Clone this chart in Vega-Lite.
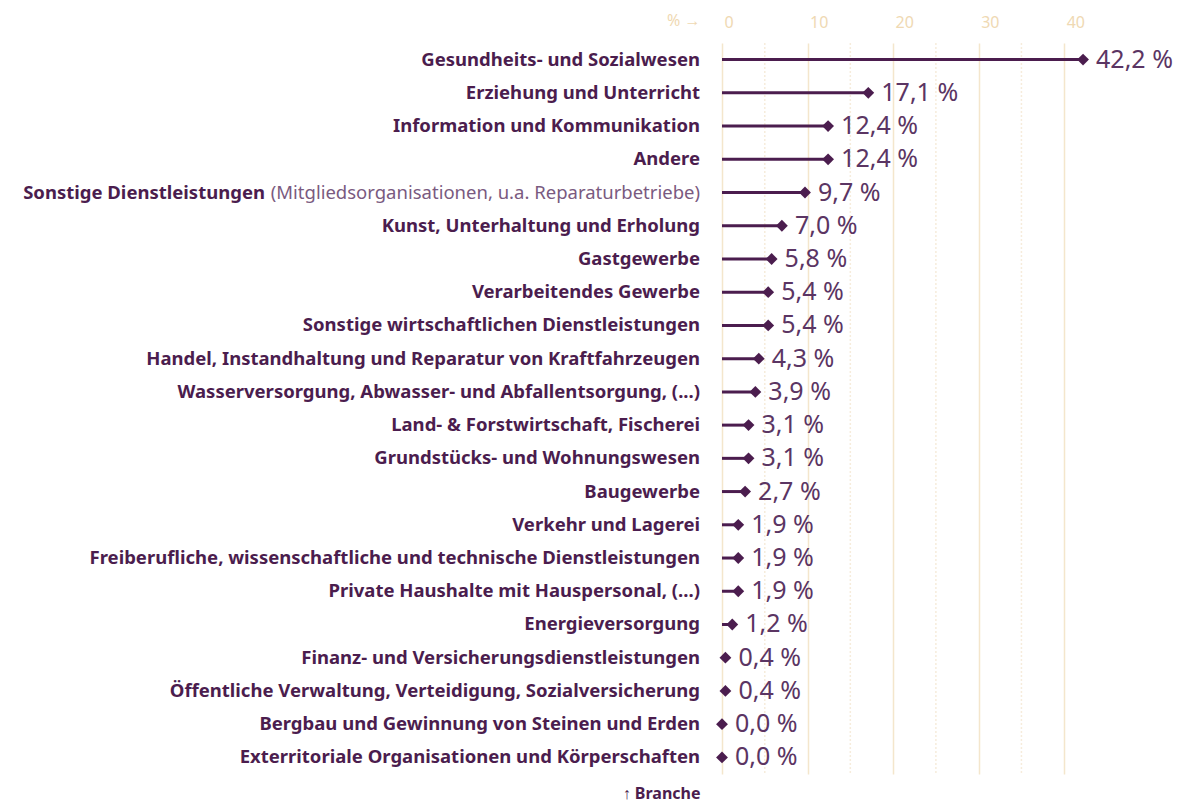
{
  "$schema": "https://vega.github.io/schema/vega-lite/v6.json",
  "width": 385,
  "height": 731,
  "autosize": {"type": "none"},
  "padding": {"left": 722, "top": 43, "right": 82, "bottom": 31},
  "background": "white",
  "config": {"view": {"stroke": null}, "font": "Noto Sans"},
  "datasets": {
    "rows": [
      {"branche": "Gesundheits- und Sozialwesen", "suffix": "", "value": 42.2},
      {"branche": "Erziehung und Unterricht", "suffix": "", "value": 17.1},
      {"branche": "Information und Kommunikation", "suffix": "", "value": 12.4},
      {"branche": "Andere", "suffix": "", "value": 12.4},
      {"branche": "Sonstige Dienstleistungen", "suffix": "(Mitgliedsorganisationen, u.a. Reparaturbetriebe)", "value": 9.7},
      {"branche": "Kunst, Unterhaltung und Erholung", "suffix": "", "value": 7.0},
      {"branche": "Gastgewerbe", "suffix": "", "value": 5.8},
      {"branche": "Verarbeitendes Gewerbe", "suffix": "", "value": 5.4},
      {"branche": "Sonstige wirtschaftlichen Dienstleistungen", "suffix": "", "value": 5.4},
      {"branche": "Handel, Instandhaltung und Reparatur von Kraftfahrzeugen", "suffix": "", "value": 4.3},
      {"branche": "Wasserversorgung, Abwasser- und Abfallentsorgung, (...)", "suffix": "", "value": 3.9},
      {"branche": "Land- & Forstwirtschaft, Fischerei", "suffix": "", "value": 3.1},
      {"branche": "Grundstücks- und Wohnungswesen", "suffix": "", "value": 3.1},
      {"branche": "Baugewerbe", "suffix": "", "value": 2.7},
      {"branche": "Verkehr und Lagerei", "suffix": "", "value": 1.9},
      {"branche": "Freiberufliche, wissenschaftliche und technische Dienstleistungen", "suffix": "", "value": 1.9},
      {"branche": "Private Haushalte mit Hauspersonal, (...)", "suffix": "", "value": 1.9},
      {"branche": "Energieversorgung", "suffix": "", "value": 1.2},
      {"branche": "Finanz- und Versicherungsdienstleistungen", "suffix": "", "value": 0.4},
      {"branche": "Öffentliche Verwaltung, Verteidigung, Sozialversicherung", "suffix": "", "value": 0.4},
      {"branche": "Bergbau und Gewinnung von Steinen und Erden", "suffix": "", "value": 0.0},
      {"branche": "Exterritoriale Organisationen und Körperschaften", "suffix": "", "value": 0.0}
    ],
    "minor": [{"v": 5}, {"v": 15}, {"v": 25}, {"v": 35}]
  },
  "layer": [
    {
      "data": {"name": "minor"},
      "mark": {"type": "rule", "stroke": "#f6ecdc", "strokeDash": [2, 2], "strokeWidth": 1.5},
      "encoding": {
        "x": {
          "field": "v", "type": "quantitative", "scale": {"domain": [0, 45], "nice": false},
          "axis": {
            "orient": "top", "values": [0, 10, 20, 30, 40], "domain": false, "ticks": false,
            "grid": true, "gridColor": "#f4e6cc", "gridWidth": 1.5,
            "labelColor": "#efd9b3", "labelFontSize": 16, "labelAlign": "left", "labelOffset": 2, "labelPadding": 13,
            "title": "% →", "titleColor": "#efd9b3", "titleFontSize": 16, "titleFontWeight": "normal",
            "titleAngle": 0, "titleAlign": "right", "titleBaseline": "middle", "titleX": -22, "titleY": -23
          }
        }
      }
    },
    {
      "data": {"name": "rows"},
      "transform": [
        {"calculate": "replace(format(datum.value, '.1f'), '.', ',') + ' %'", "as": "label"}
      ],
      "encoding": {
        "y": {
          "field": "branche", "type": "nominal", "sort": null,
          "axis": {
            "labels": false, "ticks": false, "domain": false, "grid": false,
            "title": "↑ Branche", "titleAngle": 0, "titleAlign": "right", "titleBaseline": "middle",
            "titleX": -22, "titleY": 750, "titleFontSize": 16, "titleFontWeight": "bold", "titleColor": "#4b1d4e"
          }
        }
      },
      "layer": [
        {
          "mark": {"type": "rule", "stroke": "#4b1d4e", "strokeWidth": 3},
          "encoding": {
            "x": {
              "field": "value", "type": "quantitative", "scale": {"domain": [0, 45], "nice": false},
              "axis": {
                "orient": "top", "values": [0, 10, 20, 30, 40], "domain": false, "ticks": false,
                "grid": true, "gridColor": "#f4e6cc", "gridWidth": 1.5,
                "labelColor": "#efd9b3", "labelFontSize": 16, "labelAlign": "left", "labelOffset": 2, "labelPadding": 13,
                "title": "% →", "titleColor": "#efd9b3", "titleFontSize": 16, "titleFontWeight": "normal",
                "titleAngle": 0, "titleAlign": "right", "titleBaseline": "middle", "titleX": -22, "titleY": -23
              }
            },
            "x2": {"datum": 0}
          }
        },
        {
          "mark": {"type": "point", "shape": "diamond", "filled": true, "size": 140, "color": "#4b1d4e", "opacity": 1},
          "encoding": {"x": {"field": "value", "type": "quantitative"}}
        },
        {
          "mark": {"type": "text", "align": "left", "baseline": "middle", "dx": 13, "fontSize": 25, "color": "#5b3563"},
          "encoding": {"x": {"field": "value", "type": "quantitative"}, "text": {"field": "label"}}
        },
        {
          "transform": [{"filter": "datum.suffix == ''"}],
          "mark": {"type": "text", "align": "right", "baseline": "middle", "dx": -22, "fontSize": 18.5, "fontWeight": "bold", "color": "#4b1d4e"},
          "encoding": {"x": {"datum": 0, "type": "quantitative"}, "text": {"field": "branche"}}
        },
        {
          "transform": [{"filter": "datum.suffix != ''"}],
          "mark": {"type": "text", "align": "right", "baseline": "middle", "dx": -457, "fontSize": 18.5, "fontWeight": "bold", "color": "#4b1d4e"},
          "encoding": {"x": {"datum": 0, "type": "quantitative"}, "text": {"field": "branche"}}
        },
        {
          "transform": [{"filter": "datum.suffix != ''"}],
          "mark": {"type": "text", "align": "right", "baseline": "middle", "dx": -22, "fontSize": 18.5, "fontWeight": "normal", "color": "#7a5a80"},
          "encoding": {"x": {"datum": 0, "type": "quantitative"}, "text": {"field": "suffix"}}
        }
      ]
    }
  ]
}
